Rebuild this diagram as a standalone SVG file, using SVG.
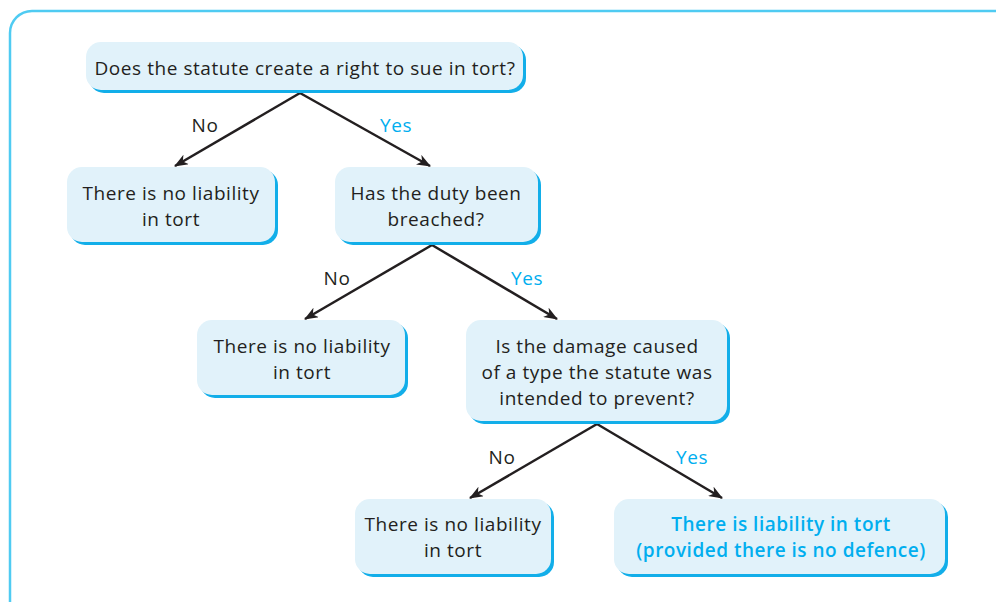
<svg xmlns="http://www.w3.org/2000/svg" width="996" height="602" viewBox="0 0 996 602">
<defs>
<style>
.box{fill:#e1f2fa;}
.sh{fill:#12aee9;}
.t{font-family:"Open Sans","DejaVu Sans",sans-serif;font-size:19px;letter-spacing:0.55px;fill:#231f20;text-anchor:middle;}
.b{fill:#00aeef;}
.bold{font-weight:600;letter-spacing:0.5px;}
.ln{stroke:#231f20;stroke-width:2.5;fill:none;}
</style>
<marker id="ah" viewBox="0 0 14 11" refX="13" refY="5.5" markerWidth="14" markerHeight="11" markerUnits="userSpaceOnUse" orient="auto">
<path d="M0,0 L14,5.5 L0,11 L4,5.5 z" fill="#231f20"/>
</marker>
</defs>
<rect x="10" y="11" width="1010" height="620" rx="22" fill="none" stroke="#4fcbf2" stroke-width="2.5"/>
<g id="connectors">
<line class="ln" x1="300" y1="93" x2="175" y2="166" marker-end="url(#ah)"/>
<line class="ln" x1="300" y1="93" x2="430" y2="166" marker-end="url(#ah)"/>
<line class="ln" x1="432" y1="245" x2="305" y2="319" marker-end="url(#ah)"/>
<line class="ln" x1="432" y1="245" x2="557" y2="319" marker-end="url(#ah)"/>
<line class="ln" x1="597" y1="424" x2="470" y2="498" marker-end="url(#ah)"/>
<line class="ln" x1="597" y1="424" x2="722" y2="498" marker-end="url(#ah)"/>
<text class="t" x="205" y="132">No</text>
<text class="t b" x="396" y="132">Yes</text>
<text class="t" x="337" y="285">No</text>
<text class="t b" x="527" y="285">Yes</text>
<text class="t" x="502" y="464">No</text>
<text class="t b" x="692" y="464">Yes</text>
</g>
<g id="n1">
<rect class="sh" x="89" y="45" width="437" height="48" rx="15"/>
<rect class="box" x="86" y="42" width="437" height="48" rx="15"/>
<text class="t" x="305" y="75">Does the statute create a right to sue in tort?</text>
</g>
<g id="n2">
<rect class="sh" x="70" y="170" width="208" height="75" rx="15"/>
<rect class="box" x="67" y="167" width="208" height="75" rx="15"/>
<text class="t" x="171" y="200">There is no liability</text>
<text class="t" x="171" y="226">in tort</text>
</g>
<g id="n3">
<rect class="sh" x="338" y="170" width="203" height="75" rx="15"/>
<rect class="box" x="335" y="167" width="203" height="75" rx="15"/>
<text class="t" x="436" y="200">Has the duty been</text>
<text class="t" x="436" y="226">breached?</text>
</g>
<g id="n4">
<rect class="sh" x="200" y="323" width="208" height="75" rx="15"/>
<rect class="box" x="197" y="320" width="208" height="75" rx="15"/>
<text class="t" x="302" y="353">There is no liability</text>
<text class="t" x="302" y="379">in tort</text>
</g>
<g id="n5">
<rect class="sh" x="469" y="323" width="261" height="101" rx="15"/>
<rect class="box" x="466" y="320" width="261" height="101" rx="15"/>
<text class="t" x="597" y="353">Is the damage caused</text>
<text class="t" x="597" y="379">of a type the statute was</text>
<text class="t" x="597" y="405">intended to prevent?</text>
</g>
<g id="n6">
<rect class="sh" x="358" y="502" width="196" height="75" rx="15"/>
<rect class="box" x="355" y="499" width="196" height="75" rx="15"/>
<text class="t" x="453" y="531">There is no liability</text>
<text class="t" x="453" y="557">in tort</text>
</g>
<g id="n7">
<rect class="sh" x="617" y="502" width="331" height="75" rx="15"/>
<rect class="box" x="614" y="499" width="331" height="75" rx="15"/>
<text class="t b bold" x="781" y="531">There is liability in tort</text>
<text class="t b bold" x="781" y="557">(provided there is no defence)</text>
</g>
</svg>
